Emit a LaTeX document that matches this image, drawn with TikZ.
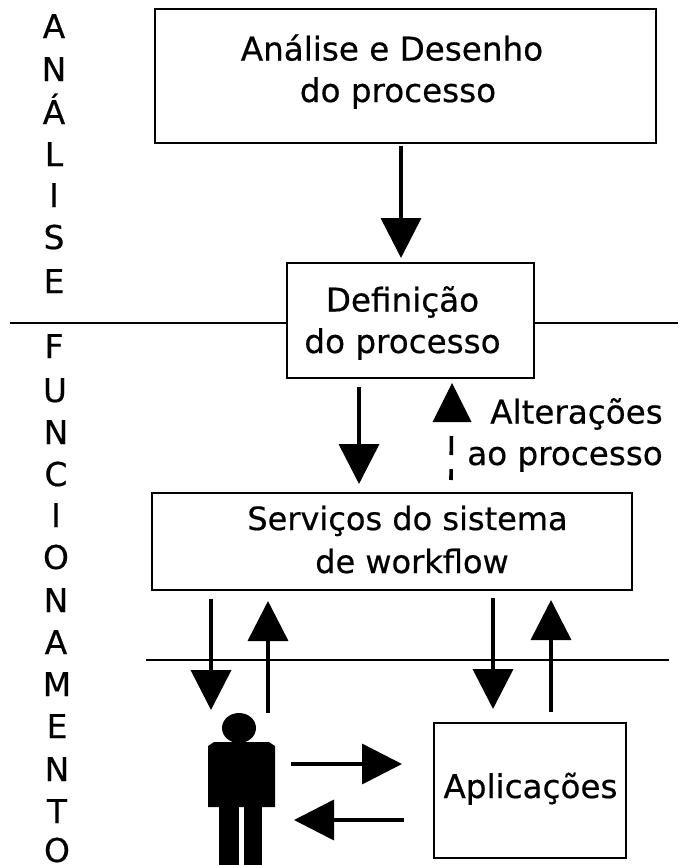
\documentclass[tikz,border=0pt]{standalone}
\usepackage{fontspec}
\setmainfont{DejaVu Sans}[FakeBold=0.5]
\usetikzlibrary{arrows.meta}

\tikzset{
    caixa/.style={draw, line width=2pt, inner sep=0pt, outer sep=0pt},
    texto/.style={font=\fontsize{32.6}{41.5}\selectfont, inner sep=0pt, anchor=base, align=center},
    letra/.style={font=\fontsize{32.8}{40}\selectfont, inner sep=0pt, anchor=base},
    seta/.style={line width=3.6pt, -{Triangle[length=40pt,width=40pt]}},
    linha/.style={line width=1.8pt},
}

\begin{document}
\begin{tikzpicture}[x=1pt,y=-1pt]
    \useasboundingbox (0,0) rectangle (678,865);

    % caixas
    \node[caixa, minimum width=501pt, minimum height=134pt] (analise) at (405.5,76) {};
    \node[caixa, minimum width=247pt, minimum height=115pt] (definicao) at (410,320.5) {};
    \node[caixa, minimum width=480pt, minimum height=97pt] (servicos) at (392,541.5) {};
    \node[caixa, minimum width=192pt, minimum height=135pt] (aplicacoes) at (530,790.5) {};

    % textos
    \node[texto] (tanalise) at (392,102) {Análise e Desenho\\\hspace*{12pt}do processo};
    \node[texto] (tdefinicao) at (402.5,353) {Definição\\do processo};
    \node[texto, font=\fontsize{32}{43}\selectfont] (tservicos) at (407.5,573) {Serviços do sistema\\\hspace*{9pt}de workflow};
    \node[texto] (taplicacoes) at (530.5,798) {Aplicações};
    \node[texto, align=right] (talteracoes) at (565,465) {Alterações\\ao processo};

    % pontos
    \coordinate (linhaA) at (10,323);
    \coordinate (linhaB) at (678,323);
    \coordinate (linhaC) at (146,660);
    \coordinate (linhaD) at (669,660);
    \coordinate (A1) at (401,146);
    \coordinate (A2) at (401,258);
    \coordinate (B1) at (359,387);
    \coordinate (B2) at (359,484);
    \coordinate (C1) at (451,480);
    \coordinate (C3) at (452,383);
    \coordinate (D1) at (211,599);
    \coordinate (D2) at (211,710);
    \coordinate (E1) at (268,713);
    \coordinate (E2) at (268,601);
    \coordinate (F1) at (493,598);
    \coordinate (F2) at (493,709);
    \coordinate (G1) at (551,712);
    \coordinate (G2) at (551,600);
    \coordinate (H1) at (291,764);
    \coordinate (H2) at (402,764);
    \coordinate (I1) at (404,820);
    \coordinate (I2) at (294,820);

    % linhas
    \draw[linha] (linhaA) -- (linhaA -| definicao.west);
    \draw[linha] (linhaB -| definicao.east) -- (linhaB);
    \draw[linha] (linhaC) -- (linhaD);

    % setas
    \draw[seta] (A1) -- (A2);
    \draw[seta] (B1) -- (B2);
    \draw[line width=3.6pt, dash pattern=on 11pt off 14pt on 19pt off 100pt] (C1) -- (C3);
    \fill (C3) -- (432.5,422) -- (471.5,422) -- cycle;
    \draw[seta] (D1) -- (D2);
    \draw[seta] (E1) -- (E2);
    \draw[seta] (F1) -- (F2);
    \draw[seta] (G1) -- (G2);
    \draw[seta] (H1) -- (H2);
    \draw[seta] (I1) -- (I2);

    % pessoa
    \fill (239,728) ellipse (17pt and 15pt);
    \fill (208,807) -- (208,746) -- (214,742) -- (269,742) -- (275,746) -- (275,807) -- cycle;
    \fill (219,806) rectangle (239,865);
    \fill (244,806) rectangle (262,865);

    % letras
    \node[letra] (a1) at (54,38) {A};
    \node[letra] (a2) at (54,81) {N};
    \node[letra] (a3) at (54,124) {Á};
    \node[letra] (a4) at (54,166) {L};
    \node[letra] (a5) at (54,207) {I};
    \node[letra] (a6) at (54,249) {S};
    \node[letra] (a7) at (54,293) {E};
    \node[letra] (f1) at (54,358) {F};
    \node[letra] (f2) at (55,402) {U};
    \node[letra] (f3) at (56,444) {N};
    \node[letra] (f4) at (56,486) {C};
    \node[letra] (f5) at (56,527) {I};
    \node[letra] (f6) at (56,569) {O};
    \node[letra] (f7) at (56,612) {N};
    \node[letra] (f8) at (56,654) {A};
    \node[letra] (f9) at (57,696) {M};
    \node[letra] (f10) at (57,738) {E};
    \node[letra] (f11) at (57,781) {N};
    \node[letra] (f12) at (57,823) {T};
    \node[letra] (f13) at (57,862) {O};
\end{tikzpicture}
\end{document}
